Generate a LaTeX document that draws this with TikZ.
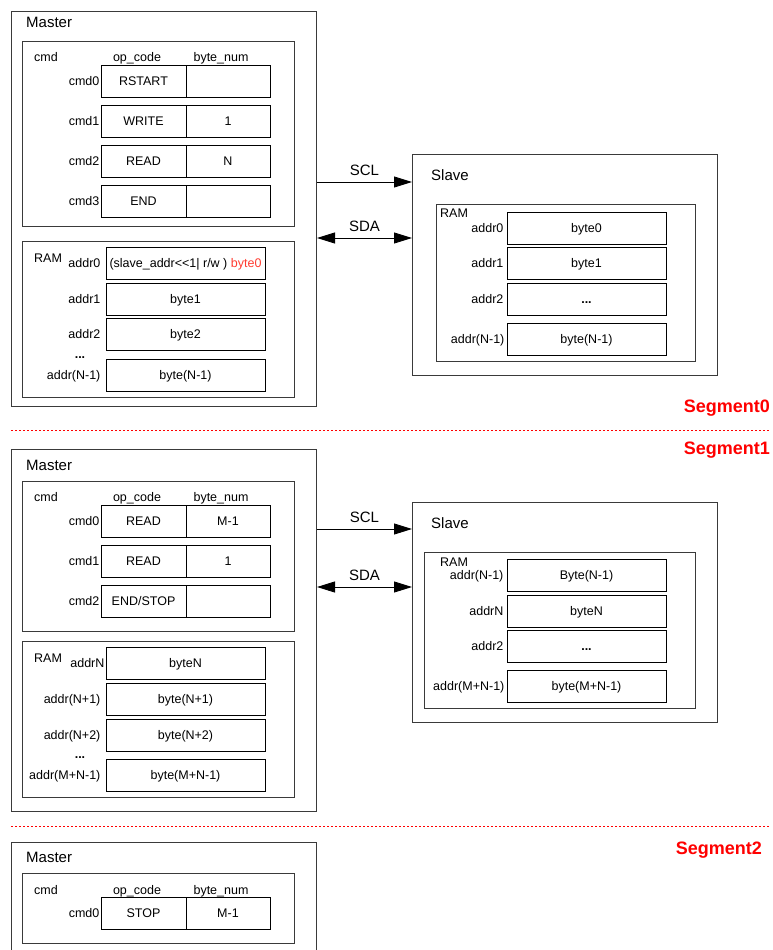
\documentclass[tikz,border=0pt]{standalone}
\usepackage{fontspec}
\setmainfont{Liberation Sans}
\usepackage{xcolor}
\usetikzlibrary{arrows.meta,positioning}
\definecolor{SegRed}{HTML}{FF0000}
\definecolor{AddrRed}{HTML}{FF3B30}
\definecolor{LineGray}{HTML}{3A3A3A}
\newcommand{\txtsmall}{\fontsize{12.5}{14}\selectfont}
\newcommand{\txtbig}{\fontsize{15}{18}\selectfont}
\newcommand{\txtseg}{\fontsize{18}{21}\selectfont\bfseries}

\begin{document}
\begin{tikzpicture}[x=1pt,y=-1pt,
  frame/.style={draw=LineGray,line width=1pt},
  inner/.style={draw=LineGray,line width=.8pt},
  cell/.style={draw=black,line width=.8pt,inner sep=0pt,font=\txtsmall,text height=8.9pt,text depth=0pt},
  opcell/.style={cell,minimum width=85pt,minimum height=32pt},
  numcell/.style={cell,minimum width=84pt,minimum height=32pt},
  ramcell/.style={cell,minimum width=159pt,minimum height=32pt},
  lbl/.style={inner sep=1pt,font=\txtsmall,text height=8.9pt,text depth=0pt},
  head/.style={inner sep=0pt,font=\txtsmall,text height=8.9pt,text depth=0pt},
  title/.style={anchor=west,inner sep=0pt,font=\txtbig,text height=10.7pt,text depth=0pt},
  seglabel/.style={anchor=east,inner sep=0pt,text=SegRed,font=\txtseg},
  segline/.style={draw=SegRed,line width=.9pt,dash pattern=on 2pt off 2pt},
  wire/.style={line width=.9pt,-{Triangle[length=18pt,width=11pt]}},
  bus/.style={line width=.9pt,{Triangle[length=18pt,width=11pt]}-{Triangle[length=18pt,width=11pt]}}]
  \useasboundingbox (0,0) rectangle (772,950);
  \clip (0,0) rectangle (772,950);

  % Segment0
  \node[frame,anchor=north west,minimum width=305pt,minimum height=395pt] (master0) at (11,11) {};
  \node[title] (master0t) at (26,22) {Master};
  \node[inner,anchor=north west,minimum width=272pt,minimum height=185pt] (cmd0box) at (22,41) {};
  \node[head,anchor=west] (cmd0h) at (34,57) {cmd};
  \node[head] (op0h) at (137,57) {op\_code};
  \node[head] (num0h) at (221,57) {byte\_num};
  \node[opcell] (a0op0) at (143.5,81) {RSTART};
  \node[numcell] (a0num0) at (228,81) {};
  \node[lbl,left=0pt of a0op0] (a0lab0) {cmd0};
  \node[opcell] (a0op1) at (143.5,121) {WRITE};
  \node[numcell] (a0num1) at (228,121) {1};
  \node[lbl,left=0pt of a0op1] (a0lab1) {cmd1};
  \node[opcell] (a0op2) at (143.5,161) {READ};
  \node[numcell] (a0num2) at (228,161) {N};
  \node[lbl,left=0pt of a0op2] (a0lab2) {cmd2};
  \node[opcell] (a0op3) at (143.5,201) {END};
  \node[numcell] (a0num3) at (228,201) {};
  \node[lbl,left=0pt of a0op3] (a0lab3) {cmd3};

  \node[inner,anchor=north west,minimum width=272pt,minimum height=156pt] (ram0box) at (22,241) {};
  \node[head,anchor=west] (ram0h) at (34,258) {RAM};
  \node[ramcell] (r0m0) at (185.5,263) {(slave\_addr<{}<1| r/w ) \textcolor{AddrRed}{byte0}};
  \node[lbl,left=4pt of r0m0] (r0lab0) {addr0};
  \node[ramcell] (r0m1) at (185.5,299) {byte1};
  \node[lbl,left=4pt of r0m1] (r0lab1) {addr1};
  \node[ramcell] (r0m2) at (185.5,334.5) {byte2};
  \node[lbl,left=4pt of r0m2] (r0lab2) {addr2};
  \node[head] (r0dots) at (80,354) {\textbf{...}};
  \node[ramcell] (r0m3) at (185.5,375) {byte(N-1)};
  \node[lbl,left=4pt of r0m3] (r0lab3) {addr(N-1)};

  \node[frame,anchor=north west,minimum width=305pt,minimum height=221pt] (slave0) at (412,154) {};
  \node[title] (slave0t) at (431,175) {Slave};
  \node[inner,anchor=north west,minimum width=259pt,minimum height=157pt] (sram0box) at (436,204) {};
  \node[head,anchor=west] (sram0h) at (440,213) {RAM};
  \node[ramcell] (s0m0) at (586.5,228) {byte0};
  \node[lbl,left=2pt of s0m0] (s0lab0) {addr0};
  \node[ramcell] (s0m1) at (586.5,263) {byte1};
  \node[lbl,left=2pt of s0m1] (s0lab1) {addr1};
  \node[ramcell] (s0m2) at (586.5,299) {\textbf{...}};
  \node[lbl,left=2pt of s0m2] (s0lab2) {addr2};
  \node[ramcell] (s0m3) at (586.5,339) {byte(N-1)};
  \node[lbl,left=1pt of s0m3] (s0lab3) {addr(N-1)};

  \coordinate (scl0) at (0,182);
  \coordinate (sda0) at (0,238);
  \draw[wire] (master0.east |- scl0) -- (slave0.west |- scl0)
    node[midway,above=6pt,inner sep=0pt,font=\txtbig] (scl0t) {SCL};
  \draw[bus] (master0.east |- sda0) -- (slave0.west |- sda0)
    node[midway,above=6pt,inner sep=0pt,font=\txtbig] (sda0t) {SDA};

  \node[seglabel] (seg0t) at (770,408) {Segment0};
  \draw[segline] (11,430) -- (770,430);
  \node[seglabel] (seg1t) at (770,450) {Segment1};

  % Segment1
  \node[frame,anchor=north west,minimum width=305pt,minimum height=362pt] (master1) at (11,449) {};
  \node[title] (master1t) at (26,465) {Master};
  \node[inner,anchor=north west,minimum width=272pt,minimum height=150pt] (cmd1box) at (22,481) {};
  \node[head,anchor=west] (cmd1h) at (34,497) {cmd};
  \node[head] (op1h) at (137,497) {op\_code};
  \node[head] (num1h) at (221,497) {byte\_num};
  \node[opcell] (a1op0) at (143.5,521) {READ};
  \node[numcell] (a1num0) at (228,521) {M-1};
  \node[lbl,left=0pt of a1op0] (a1lab0) {cmd0};
  \node[opcell] (a1op1) at (143.5,561) {READ};
  \node[numcell] (a1num1) at (228,561) {1};
  \node[lbl,left=0pt of a1op1] (a1lab1) {cmd1};
  \node[opcell] (a1op2) at (143.5,601.5) {END/STOP};
  \node[numcell] (a1num2) at (228,601.5) {};
  \node[lbl,left=0pt of a1op2] (a1lab2) {cmd2};

  \node[inner,anchor=north west,minimum width=272pt,minimum height=156pt] (ram1box) at (22,641) {};
  \node[head,anchor=west] (ram1h) at (34,658) {RAM};
  \node[ramcell] (r1m0) at (185.5,663) {byteN};
  \node[lbl,left=0pt of r1m0] (r1lab0) {addrN};
  \node[ramcell] (r1m1) at (185.5,699) {byte(N+1)};
  \node[lbl,left=4pt of r1m1] (r1lab1) {addr(N+1)};
  \node[ramcell] (r1m2) at (185.5,735) {byte(N+2)};
  \node[lbl,left=4pt of r1m2] (r1lab2) {addr(N+2)};
  \node[head] (r1dots) at (80,754) {\textbf{...}};
  \node[ramcell] (r1m3) at (185.5,775.5) {byte(M+N-1)};
  \node[lbl,left=4pt of r1m3] (r1lab3) {addr(M+N-1)};

  \node[frame,anchor=north west,minimum width=305pt,minimum height=220pt] (slave1) at (412,502) {};
  \node[title] (slave1t) at (431,523) {Slave};
  \node[inner,anchor=north west,minimum width=271pt,minimum height=156pt] (sram1box) at (424,552) {};
  \node[head,anchor=west] (sram1h) at (440,562) {RAM};
  \node[ramcell] (s1m0) at (586.5,575) {Byte(N-1)};
  \node[lbl,left=2pt of s1m0] (s1lab0) {addr(N-1)};
  \node[ramcell] (s1m1) at (586.5,611) {byteN};
  \node[lbl,left=2pt of s1m1] (s1lab1) {addrN};
  \node[ramcell] (s1m2) at (586.5,646.5) {\textbf{...}};
  \node[lbl,left=2pt of s1m2] (s1lab2) {addr2};
  \node[ramcell] (s1m3) at (586.5,686.5) {byte(M+N-1)};
  \node[lbl,left=1pt of s1m3] (s1lab3) {addr(M+N-1)};

  \coordinate (scl1) at (0,529);
  \coordinate (sda1) at (0,587);
  \draw[wire] (master1.east |- scl1) -- (slave1.west |- scl1)
    node[midway,above=6pt,inner sep=0pt,font=\txtbig] (scl1t) {SCL};
  \draw[bus] (master1.east |- sda1) -- (slave1.west |- sda1)
    node[midway,above=6pt,inner sep=0pt,font=\txtbig] (sda1t) {SDA};

  \draw[segline] (11,826) -- (770,826);
  \node[seglabel] (seg2t) at (762,850) {Segment2};

  % Segment2
  \node[frame,anchor=north west,minimum width=305pt,minimum height=130pt] (master2) at (11,842) {};
  \node[title] (master2t) at (26,857) {Master};
  \node[inner,anchor=north west,minimum width=272pt,minimum height=70pt] (cmd2box) at (22,873) {};
  \node[head,anchor=west] (cmd2h) at (34,890) {cmd};
  \node[head] (op2h) at (137,890) {op\_code};
  \node[head] (num2h) at (221,890) {byte\_num};
  \node[opcell] (a2op0) at (143.5,913.5) {STOP};
  \node[numcell] (a2num0) at (228,913.5) {M-1};
  \node[lbl,left=0pt of a2op0] (a2lab0) {cmd0};
\end{tikzpicture}
\end{document}
